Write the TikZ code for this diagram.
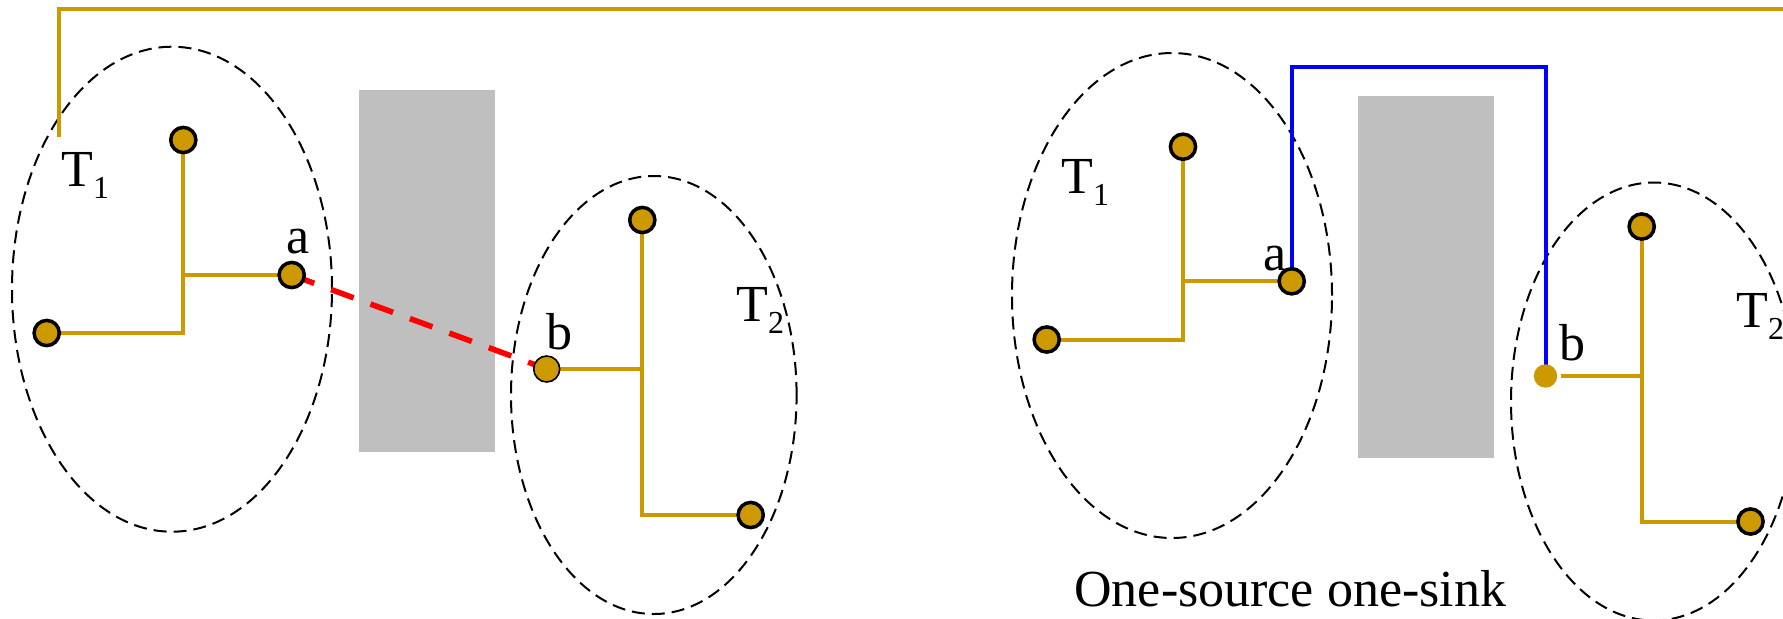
\documentclass[tikz,border=0pt]{standalone}
\usepackage{fontspec}
\setmainfont{Liberation Serif}
\newfontfamily\labelfont{Liberation Serif}
\usetikzlibrary{shapes.geometric, backgrounds}
\definecolor{mygold}{RGB}{204,153,0}
\definecolor{mygray}{RGB}{191,191,191}
\definecolor{myblue}{RGB}{0,0,255}
\definecolor{myred}{RGB}{255,0,0}
\newcommand{\tsub}[1]{{\fontsize{16}{16}\selectfont\raisebox{-6pt}{#1}}}
\tikzset{
  termnode/.style={circle, draw=black, fill=mygold, line width=1.75pt,
    minimum size=12.6pt, inner sep=0pt},
  srcnode/.style={circle, draw=black, fill=mygold, line width=0.8pt,
    minimum size=13pt, inner sep=0pt},
  plainnode/.style={circle, fill=mygold, minimum size=11.7pt, inner sep=0pt},
  cluster/.style={ellipse, draw=black, line width=1pt,
    dash pattern=on 6.5pt off 3.5pt, inner sep=0pt},
  obstacle/.style={rectangle, fill=mygray, minimum width=68pt,
    minimum height=180.85pt, inner sep=0pt},
  wire/.style={color=mygold, line width=2pt},
  cutwire/.style={color=myred, line width=2.8pt, dash pattern=on 12pt off 9pt},
  routewire/.style={color=myblue, line width=2pt},
  lbl/.style={anchor=base west, inner sep=0pt, font=\labelfont\fontsize{26}{30}\selectfont}
}

\begin{document}
\begin{tikzpicture}[x=0.5pt, y=-0.5pt]
  \useasboundingbox (0,0) rectangle (1783,618);

  % Left: terminals
  \node[termnode] (l1top) at (183.3,140) {};
  \node[termnode] (l1left) at (46.7,333) {};
  \node[termnode] (la) at (291.7,275) {};
  \node[termnode] (l2top) at (642.3,220) {};
  \node[srcnode] (lb) at (546.7,369) {};
  \node[termnode] (l2br) at (750.7,515) {};

  % Right: terminals
  \node[termnode] (r1top) at (1183,146.7) {};
  \node[termnode] (r1left) at (1046.7,339.5) {};
  \node[termnode] (ra) at (1291.7,281.3) {};
  \node[termnode] (r2top) at (1641.7,226.5) {};
  \node[plainnode] (rb) at (1545.5,376) {};
  \node[termnode] (r2br) at (1750.5,521.5) {};

  % Labels
  \node[lbl] (lT1lbl) at (61,186.7) {T\tsub{1}};
  \node[lbl] (lT2lbl) at (736,321.7) {T\tsub{2}};
  \node[lbl] (lalbl) at (286,253.3) {a};
  \node[lbl] (lblbl) at (546.5,349) {b};
  \node[lbl] (rT1lbl) at (1061,193.3) {T\tsub{1}};
  \node[lbl] (rT2lbl) at (1736,327.5) {T\tsub{2}};
  \node[lbl] (ralbl) at (1263,270) {a};
  \node[lbl] (rblbl) at (1559.5,360) {b};
  \node[lbl] (caption) at (1074,606.7) {One-source one-sink};

  % Free ends of the top wire
  \coordinate (wirefoot) at (59.3,136.7);
  \coordinate (wireend) at (1783,9);

  \begin{scope}[on background layer]
    % Clusters and obstacles
    \node[cluster, minimum width=160pt, minimum height=242.5pt] (lT1) at (172,289.2) {};
    \node[cluster, minimum width=142.8pt, minimum height=219pt] (lT2) at (653.8,395) {};
    \node[obstacle] (lobs) at (427,270.9) {};
    \node[cluster, minimum width=160pt, minimum height=242.5pt] (rT1) at (1172,295.5) {};
    \node[cluster, minimum width=142.8pt, minimum height=219pt] (rT2) at (1653.8,401.5) {};
    \node[obstacle] (robs) at (1426,276.9) {};

    % Trees
    \draw[wire] (l1top.center) |- (l1left.center);
    \draw[wire] (la.center) -- (la.center -| l1top.center);
    \draw[wire] (l2top.center) |- (l2br.center);
    \draw[wire] (lb.center) -- (lb.center -| l2top.center);
    \draw[wire] (r1top.center) |- (r1left.center);
    \draw[wire] (ra.center) -- (ra.center -| r1top.center);
    \draw[wire] (r2top.center) |- (r2br.center);
    \draw[wire, shorten <=1.5pt] (rb.east) -- (rb.east -| r2top.center);

    % Connections
    \draw[wire] (wirefoot) |- (wireend);
    \draw[cutwire] (la.center) -- (lb.center);
    \draw[routewire] (ra.center) -- ++(0,-214.6) -| (rb.center);
  \end{scope}

\end{tikzpicture}
\end{document}
